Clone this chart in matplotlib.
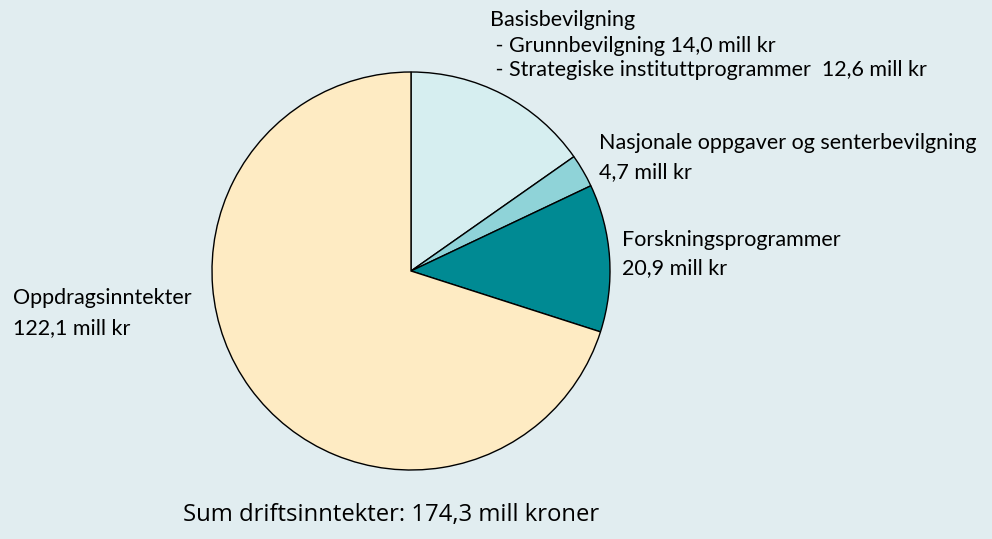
import matplotlib.pyplot as plt

# --- Data ---
categories = ['Basisbevilgning', 'Nasjonale oppgaver og senterbevilgning',
              'Forskningsprogrammer', 'Oppdragsinntekter']
values = [26.6, 4.7, 20.9, 122.1]   # mill kr (basis = 14,0 + 12,6)
colors = ['#d6eef0', '#8fd3d8', '#008a93', '#feebc3']
bg = '#e1edf0'

label_lines = [
    ('Basisbevilgning', 490, 20),
    (' - Grunnbevilgning 14,0 mill kr', 490, 46),
    (' - Strategiske instituttprogrammer  12,6 mill kr', 490, 70),
    ('Nasjonale oppgaver og senterbevilgning', 599, 143),
    ('4,7 mill kr', 599, 172),
    ('Forskningsprogrammer', 622, 240),
    ('20,9 mill kr', 622, 268),
    ('Oppdragsinntekter', 13, 298),
    ('122,1 mill kr', 13, 328),
]
total_text = 'Sum driftsinntekter: 174,3 mill kroner'

W, H = 992, 539
fig = plt.figure(figsize=(W / 100, H / 100), dpi=100, facecolor=bg)
ax = fig.add_axes([0, 0, 1, 1])

ax.pie(values, colors=colors, startangle=90, counterclock=False,
       center=(411, H - 271), radius=199, frame=True,
       wedgeprops=dict(edgecolor='black', linewidth=1.0))
ax.set_xlim(0, W)
ax.set_ylim(0, H)
ax.set_aspect('equal')
ax.axis('off')

for txt, x, y in label_lines:
    ax.text(x, H - y, txt, fontsize=15.5, family='Lato', va='center', ha='left',
            color='black')

ax.text(183, H - 515, total_text, fontsize=17.2, family='Open Sans',
        va='center', ha='left', color='black')

fig.savefig('out.png', dpi=100, facecolor=bg)
